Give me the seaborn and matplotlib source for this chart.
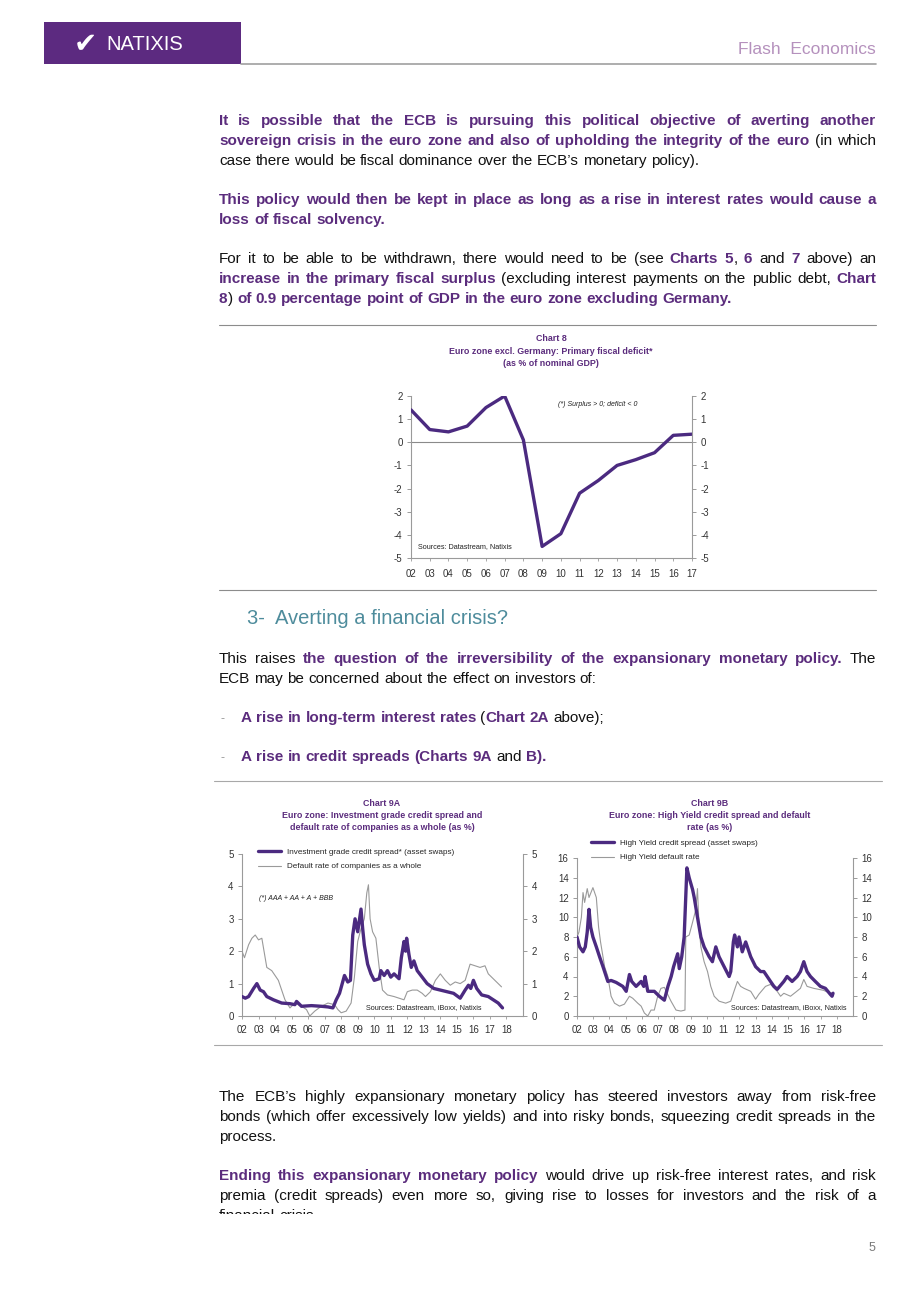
import matplotlib
matplotlib.use("Agg")
import matplotlib.pyplot as plt
import matplotlib.font_manager as fm
from matplotlib.lines import Line2D
from matplotlib.patches import Rectangle
import seaborn as sns
import pandas as pd

W, H = 920, 1302

# ---------------- data ----------------
# Chart 8: primary fiscal balance, euro zone excl. Germany (% of GDP)
chart8_years = list(range(2002, 2018))
chart8_balance = [1.4, 0.55, 0.45, 0.7, 1.5, 2.0, 0.1, -4.5, -3.95, -2.2, -1.65, -1.0, -0.75, -0.45, 0.3, 0.35]

# Chart 9A: investment grade spread and default rate of companies as a whole
ig_dates = [2002.0, 2002.2, 2002.4, 2002.7, 2002.9, 2003.1, 2003.3, 2003.5, 2003.9, 2004.4, 2004.9,
            2005.2, 2005.3, 2005.6, 2006.2, 2006.8, 2007.2, 2007.5, 2007.7, 2007.9, 2008.2, 2008.4,
            2008.56, 2008.7, 2008.84, 2009.0, 2009.2, 2009.3, 2009.4, 2009.6, 2009.8, 2010.0, 2010.3,
            2010.4, 2010.6, 2010.8, 2011.0, 2011.2, 2011.5, 2011.64, 2011.8, 2011.9, 2011.96, 2012.1,
            2012.24, 2012.4, 2012.6, 2012.9, 2013.2, 2013.6, 2014.0, 2014.4, 2014.8, 2015.2, 2015.5,
            2015.7, 2015.84, 2016.0, 2016.2, 2016.5, 2016.9, 2017.2, 2017.5, 2017.76]
ig_spread = [0.6, 0.55, 0.6, 0.85, 1.0, 0.8, 0.75, 0.6, 0.5, 0.4, 0.38,
             0.35, 0.45, 0.3, 0.32, 0.3, 0.28, 0.25, 0.5, 0.7, 1.25, 1.05,
             1.1, 2.5, 3.0, 2.6, 3.3, 2.7, 2.2, 1.6, 1.3, 1.1, 1.15,
             1.4, 1.25, 1.4, 1.2, 1.3, 1.15, 1.8, 2.3, 2.0, 2.4, 1.9,
             1.5, 1.7, 1.4, 1.2, 1.0, 0.85, 0.8, 0.75, 0.7, 0.55, 0.8,
             0.95, 0.85, 1.1, 0.85, 0.65, 0.6, 0.5, 0.4, 0.25]
ig_default_dates = [2002.0, 2002.15, 2002.4, 2002.6, 2002.8, 2003.0, 2003.2, 2003.5, 2003.8, 2004.2,
                    2004.6, 2004.9, 2005.2, 2005.6, 2005.9, 2006.1, 2006.4, 2006.8, 2007.2, 2007.6,
                    2007.8, 2008.0, 2008.3, 2008.6, 2008.8, 2009.0, 2009.2, 2009.4, 2009.55, 2009.65,
                    2009.75, 2009.9, 2010.1, 2010.3, 2010.5, 2010.8, 2011.2, 2011.5, 2011.8, 2012.0,
                    2012.3, 2012.6, 2012.9, 2013.1, 2013.4, 2013.7, 2014.0, 2014.3, 2014.6, 2014.9,
                    2015.2, 2015.5, 2015.8, 2016.1, 2016.4, 2016.7, 2016.9, 2017.2, 2017.5, 2017.7]
ig_default = [2.0, 1.8, 2.2, 2.4, 2.5, 2.35, 2.4, 1.5, 1.4, 1.1,
              0.5, 0.25, 0.4, 0.3, 0.2, 0.0, 0.15, 0.3, 0.4, 0.35,
              0.2, 0.1, 0.15, 0.4, 1.2, 2.3, 2.7, 3.0, 3.8, 4.05,
              3.0, 2.6, 2.4, 1.5, 0.8, 0.65, 0.6, 0.55, 0.5, 0.75,
              0.8, 0.8, 0.7, 0.6, 0.75, 1.1, 1.3, 1.1, 0.95, 1.05,
              1.0, 1.1, 1.6, 1.55, 1.5, 1.55, 1.3, 1.15, 1.0, 0.9]

# Chart 9B: high yield spread and high yield default rate
hy_dates = [2002.0, 2002.16, 2002.37, 2002.51, 2002.63, 2002.74, 2002.84, 2002.98, 2003.19, 2003.39,
            2003.6, 2003.7, 2003.9, 2004.1, 2004.41, 2004.82, 2005.03, 2005.23, 2005.37, 2005.64,
            2005.95, 2006.11, 2006.19, 2006.36, 2006.76, 2007.07, 2007.38, 2007.6, 2007.8, 2007.95,
            2008.2, 2008.3, 2008.45, 2008.6, 2008.77, 2008.91, 2009.12, 2009.22, 2009.42, 2009.63,
            2009.83, 2010.14, 2010.34, 2010.55, 2010.75, 2011.06, 2011.37, 2011.47, 2011.63, 2011.71,
            2011.88, 2011.98, 2012.18, 2012.39, 2012.7, 2013.0, 2013.31, 2013.51, 2013.92, 2014.13,
            2014.33, 2014.74, 2014.94, 2015.25, 2015.56, 2015.76, 2015.97, 2016.17, 2016.38, 2016.68,
            2016.99, 2017.3, 2017.6, 2017.71, 2017.77]
hy_spread = [8.0, 7.0, 6.5, 7.0, 8.5, 10.8, 9.0, 8.0, 7.0, 6.0,
             5.0, 4.5, 3.5, 3.6, 3.4, 3.0, 2.5, 4.2, 3.5, 3.0,
             3.5, 3.0, 4.0, 2.5, 2.5, 2.0, 1.6, 3.0, 4.0, 5.0,
             6.3, 4.8, 6.0, 8.0, 15.0, 14.0, 12.8, 12.0, 10.0, 8.0,
             7.0, 6.0, 5.5, 7.0, 6.0, 5.0, 4.0, 4.5, 7.5, 8.2,
             7.0, 8.0, 6.5, 7.5, 6.0, 5.0, 4.5, 4.5, 3.5, 3.0,
             2.7, 3.5, 4.0, 3.5, 4.0, 4.5, 5.5, 4.5, 4.0, 3.5,
             3.0, 2.8, 2.2, 2.0, 2.3]
hy_default_dates = [2002.0, 2002.12, 2002.27, 2002.37, 2002.47, 2002.63, 2002.74, 2002.98, 2003.19, 2003.33,
                    2003.45, 2003.6, 2003.7, 2003.9, 2004.1, 2004.31, 2004.62, 2004.92, 2005.23, 2005.43,
                    2005.74, 2005.95, 2006.15, 2006.36, 2006.56, 2006.76, 2006.97, 2007.17, 2007.38, 2007.58,
                    2007.79, 2008.1, 2008.4, 2008.65, 2008.7, 2008.91, 2009.12, 2009.32, 2009.42, 2009.52,
                    2009.63, 2009.83, 2010.04, 2010.24, 2010.45, 2010.75, 2011.16, 2011.47, 2011.67, 2011.88,
                    2012.08, 2012.29, 2012.7, 2013.0, 2013.2, 2013.61, 2013.92, 2014.33, 2014.54, 2014.74,
                    2015.15, 2015.46, 2015.76, 2015.97, 2016.17, 2016.58, 2017.19, 2017.6, 2017.8]
hy_default = [8.0, 8.5, 10.0, 12.5, 11.5, 12.9, 12.0, 13.0, 12.0, 9.0,
              7.5, 6.0, 5.0, 4.0, 2.0, 1.3, 1.0, 1.2, 2.0, 1.8,
              1.3, 1.0, 0.3, 0.0, 0.6, 0.6, 2.0, 2.8, 2.9, 2.2,
              1.5, 0.6, 0.5, 0.6, 8.0, 8.2, 9.5, 10.8, 12.9, 9.0,
              7.0, 5.5, 4.5, 3.0, 2.0, 1.5, 1.3, 1.5, 2.5, 3.5,
              3.0, 2.8, 2.5, 1.7, 2.2, 3.0, 3.2, 2.5, 2.0, 2.3,
              2.0, 2.4, 2.8, 3.7, 3.0, 2.8, 2.6, 2.3, 2.4]

year_labels_8 = [f"{y % 100:02d}" for y in chart8_years]
years_9 = list(range(2002, 2019))
year_labels_9 = [f"{y % 100:02d}" for y in years_9]

# ---------------- style ----------------
sns.set_style("white")


def has_font(name):
    try:
        fm.findfont(fm.FontProperties(family=name), fallback_to_default=False)
        return True
    except ValueError:
        return False


NARROW = has_font("Liberation Sans Narrow")
BODY = "Liberation Sans Narrow" if NARROW else "Liberation Sans"
BODY_SIZE = 13.5 if NARROW else 11.0
CHART_FONT = "Liberation Sans"
plt.rcParams["font.family"] = [CHART_FONT, "DejaVu Sans"]

PURPLE_TXT = "#5b2c7d"
BLACK = "#111111"
TEAL = "#4e8c9c"
LINE_PURPLE = "#4b2a80"
GREY_LINE = "#9a9a9a"
TICK_COL = "#333333"

fig = plt.figure(figsize=(W / 100, H / 100), dpi=100)
renderer = fig.canvas.get_renderer()


def fx(x):
    return x / W


def fy(y):
    return 1 - y / H


def piece_width(s, bold, size):
    t = fig.text(0, 0, s, fontsize=size, fontweight="bold" if bold else "normal", family=BODY)
    w = t.get_window_extent(renderer).width
    t.remove()
    return w


def split_words(segments):
    words, cur = [], []
    for text, bold in segments:
        for ch in text:
            if ch == " ":
                if cur:
                    words.append(cur)
                    cur = []
            elif cur and cur[-1][1] == bold:
                cur[-1][0] += ch
            else:
                cur.append([ch, bold])
    if cur:
        words.append(cur)
    return words


def draw_line(y, segments, x0=219, x1=876, justify=True, size=BODY_SIZE):
    words = split_words(segments)
    space = piece_width("a a", False, size) - piece_width("aa", False, size)
    widths = [[piece_width(p, b, size) for p, b in w] for w in words]
    total = sum(sum(ws) for ws in widths)
    n = len(words)
    if total + 0.6 * space * (n - 1) > x1 - x0:
        size = size * (x1 - x0) / (total + 0.6 * space * (n - 1)) * 0.99
        space = piece_width("a a", False, size) - piece_width("aa", False, size)
        widths = [[piece_width(p, b, size) for p, b in w] for w in words]
        total = sum(sum(ws) for ws in widths)
    gap = (x1 - x0 - total) / (n - 1) if (justify and n > 1) else space
    x = x0
    for w, ws in zip(words, widths):
        for (p, b), pw in zip(w, ws):
            fig.text(fx(x), fy(y), p, fontsize=size, family=BODY,
                     fontweight="bold" if b else "normal",
                     color=PURPLE_TXT if b else BLACK, ha="left", va="baseline")
            x += pw
        x += gap


def hline(y, x0, x1, color="#8c8c8c", lw=0.8, ls="-"):
    fig.add_artist(Line2D([fx(x0), fx(x1)], [fy(y), fy(y)], color=color, lw=lw, ls=ls,
                          transform=fig.transFigure))


# ---------------- header ----------------
fig.add_artist(Rectangle((fx(44), fy(64)), fx(241) - fx(44), fy(22) - fy(64),
                         transform=fig.transFigure, color="#5c2a80", lw=0))
fig.text(fx(74), fy(44), "\u2714", color="white", fontsize=20, family="DejaVu Sans",
         ha="left", va="center")
fig.text(fx(106), fy(44), "NATIXIS", color="white", fontsize=14.5, family=CHART_FONT,
         ha="left", va="center")
hline(64, 241, 876, color="#a0a0a0", lw=1.2)
fig.text(fx(876), fy(49), "Flash  Economics", color="#b591bd", fontsize=15 if NARROW else 12.5,
         family=BODY, ha="right", va="center")

# ---------------- text blocks ----------------
B, N = True, False
draw_line(125, [("It is possible that the ECB is pursuing this political objective of averting another", B)])
draw_line(145, [("sovereign crisis in the euro zone and also of upholding the integrity of the euro", B),
                (" (in which", N)])
draw_line(165, [("case there would be fiscal dominance over the ECB\u2019s monetary policy).", N)], justify=False)

draw_line(204, [("This policy would then be kept in place as long as a rise in interest rates would cause a", B)])
draw_line(224, [("loss of fiscal solvency.", B)], justify=False)

draw_line(263, [("For it to be able to be withdrawn, there would need to be (see ", N), ("Charts 5", B),
                (", ", N), ("6", B), (" and ", N), ("7", B), (" above) an", N)])
draw_line(283, [("increase in the primary fiscal surplus", B),
                (" (excluding interest payments on the public debt, ", N), ("Chart", B)])
draw_line(303, [("8", B), (") ", N), ("of 0.9 percentage point of GDP in the euro zone excluding Germany.", B)],
          justify=False)

hline(325, 219, 876)
hline(590, 219, 876)

fig.text(fx(247), fy(619), "3-  Averting a financial crisis?", color=TEAL,
         fontsize=17.9 if NARROW else 14.5, family=BODY, ha="left", va="center")

draw_line(663, [("This raises ", N),
                ("the question of the irreversibility of the expansionary monetary policy.", B),
                (" The", N)])
draw_line(683, [("ECB may be concerned about the effect on investors of:", N)], justify=False)

fig.text(fx(221), fy(722), "-", color="#999999", fontsize=BODY_SIZE - 2, family=BODY, va="baseline")
draw_line(722, [("A rise in long-term interest rates", B), (" (", N), ("Chart 2A", B), (" above);", N)],
          x0=241, justify=False)
fig.text(fx(221), fy(761), "-", color="#999999", fontsize=BODY_SIZE - 2, family=BODY, va="baseline")
draw_line(761, [("A rise in credit spreads (Charts 9A", B), (" and ", N), ("B).", B)], x0=241, justify=False)

hline(781, 214, 882, color="#a8a8a8", lw=0.8)
hline(1045, 214, 882, color="#a8a8a8", lw=0.8)

draw_line(1101, [("The ECB\u2019s highly expansionary monetary policy has steered investors away from risk-free", N)])
draw_line(1121, [("bonds (which offer excessively low yields) and into risky bonds, squeezing credit spreads in the", N)])
draw_line(1141, [("process.", N)], justify=False)

draw_line(1180, [("Ending this expansionary monetary policy", B),
                 (" would drive up risk-free interest rates, and risk", N)])
draw_line(1200, [("premia (credit spreads) even more so, giving rise to losses for investors and the risk of a", N)])
draw_line(1220, [("financial crisis.", N)], justify=False)
# the page cuts the last line in half
fig.add_artist(Rectangle((0, fy(1232)), 1, fy(1214) - fy(1232), transform=fig.transFigure,
                         color="white", lw=0, zorder=10))

fig.text(fx(872), fy(1248), "5", color="#7a7a7a", fontsize=9, family=CHART_FONT, ha="center", va="center")


# ---------------- charts ----------------
def add_ax(left, top, right, bottom):
    return fig.add_axes([fx(left), fy(bottom), fx(right) - fx(left), fy(top) - fy(bottom)])


def style_ax(ax, ticks, ylim, xlim, xticks, xlabels, xpad):
    ax.set_xlim(*xlim)
    ax.set_ylim(*ylim)
    ax.set_yticks(ticks)
    ax.set_yticklabels([str(t) for t in ticks])
    ax.set_xticks(xticks)
    ax.set_xticklabels(xlabels)
    ax.set_xlabel("")
    ax.set_ylabel("")
    ax.set_facecolor("none")
    for s in ["top", "right"]:
        ax.spines[s].set_visible(False)
    for s in ["left", "bottom"]:
        ax.spines[s].set_color(GREY_LINE)
        ax.spines[s].set_linewidth(0.8)
    ax.tick_params(axis="y", left=True, direction="out", length=3, width=0.7, color=GREY_LINE,
                   labelsize=7, labelcolor=TICK_COL, pad=3)
    ax.tick_params(axis="x", bottom=True, direction="out", length=2, width=0.6, color=GREY_LINE,
                   labelsize=7, labelcolor=TICK_COL, pad=xpad)
    tw = ax.twinx()
    tw.set_ylim(*ylim)
    tw.set_yticks(ticks)
    tw.set_yticklabels([str(t) for t in ticks])
    for s in ["top", "left", "bottom"]:
        tw.spines[s].set_visible(False)
    tw.spines["right"].set_color(GREY_LINE)
    tw.spines["right"].set_linewidth(0.8)
    tw.tick_params(axis="y", right=True, direction="out", length=3, width=0.7, color=GREY_LINE,
                   labelsize=7, labelcolor=TICK_COL, pad=3)
    tw.grid(False)
    ax.grid(False)
    return tw


def chart_title(xc, y0, lines):
    for i, line in enumerate(lines):
        fig.text(fx(xc), fy(y0 + 12 * i), line, color=PURPLE_TXT, fontsize=6.4, fontweight="bold",
                 family=CHART_FONT, ha="center", va="center")


# Chart 8
chart_title(551, 339, ["Chart 8", "Euro zone excl. Germany: Primary fiscal deficit*", "(as % of nominal GDP)"])
ax8 = add_ax(411, 396, 692, 558)
df8 = pd.DataFrame({"year": chart8_years, "balance": chart8_balance})
ax8.axhline(0, color="#8a8a8a", lw=0.8, zorder=1)
sns.lineplot(data=df8, x="year", y="balance", ax=ax8, color=LINE_PURPLE, lw=2.4, zorder=3)
style_ax(ax8, list(range(-5, 3)), (-5, 2), (2002, 2017), chart8_years, year_labels_8, 6)
fig.text(fx(558), fy(404), "(*) Surplus > 0; deficit < 0", fontsize=5, style="italic",
         color="#222222", family=CHART_FONT, ha="left", va="center")
fig.text(fx(418), fy(547), "Sources: Datastream, Natixis", fontsize=5.2, color="#222222",
         family=CHART_FONT, ha="left", va="center")

# Chart 9A
chart_title(382, 803, ["Chart 9A", "Euro zone: Investment grade credit spread and",
                       "default rate of companies as a whole (as %)"])
ax9a = add_ax(242, 854, 523, 1016)
df_ig = pd.DataFrame({"date": ig_dates, "value": ig_spread})
df_igd = pd.DataFrame({"date": ig_default_dates, "value": ig_default})
sns.lineplot(data=df_igd, x="date", y="value", ax=ax9a, color=GREY_LINE, lw=0.8,
             label="Default rate of companies as a whole", zorder=2)
sns.lineplot(data=df_ig, x="date", y="value", ax=ax9a, color=LINE_PURPLE, lw=2.4,
             label="Investment grade credit spread* (asset swaps)", zorder=3)
h, l = ax9a.get_legend_handles_labels()
ax9a.legend(h[::-1], l[::-1], loc="upper left", bbox_to_anchor=(fx(258), fy(848)),
            bbox_transform=fig.transFigure, frameon=False, fontsize=5.9, handlelength=2.8,
            handletextpad=0.7, labelspacing=0.85, borderpad=0, borderaxespad=0)
style_ax(ax9a, list(range(0, 6)), (0, 5), (2002, 2019), years_9, year_labels_9, 4.5)
fig.text(fx(259), fy(899), "(*) AAA + AA + A + BBB", fontsize=5, style="italic", color="#222222",
         family=CHART_FONT, ha="left", va="center")
fig.text(fx(482), fy(1008), "Sources: Datastream, iBoxx, Natixis", fontsize=5.2, color="#222222",
         family=CHART_FONT, ha="right", va="center")

# Chart 9B
chart_title(710, 803, ["Chart 9B", "Euro zone: High Yield credit spread and default", "rate (as %)"])
ax9b = add_ax(577, 858, 853, 1016)
df_hy = pd.DataFrame({"date": hy_dates, "value": hy_spread})
df_hyd = pd.DataFrame({"date": hy_default_dates, "value": hy_default})
sns.lineplot(data=df_hyd, x="date", y="value", ax=ax9b, color=GREY_LINE, lw=0.8,
             label="High Yield default rate", zorder=2)
sns.lineplot(data=df_hy, x="date", y="value", ax=ax9b, color=LINE_PURPLE, lw=2.4,
             label="High Yield credit spread (asset swaps)", zorder=3)
h, l = ax9b.get_legend_handles_labels()
ax9b.legend(h[::-1], l[::-1], loc="upper left", bbox_to_anchor=(fx(591), fy(839)),
            bbox_transform=fig.transFigure, frameon=False, fontsize=5.9, handlelength=2.8,
            handletextpad=0.7, labelspacing=0.85, borderpad=0, borderaxespad=0)
style_ax(ax9b, list(range(0, 17, 2)), (0, 16), (2002, 2019), years_9, year_labels_9, 4.5)
fig.text(fx(847), fy(1008), "Sources: Datastream, iBoxx, Natixis", fontsize=5.2, color="#222222",
         family=CHART_FONT, ha="right", va="center")

fig.savefig("out.png", dpi=100)
